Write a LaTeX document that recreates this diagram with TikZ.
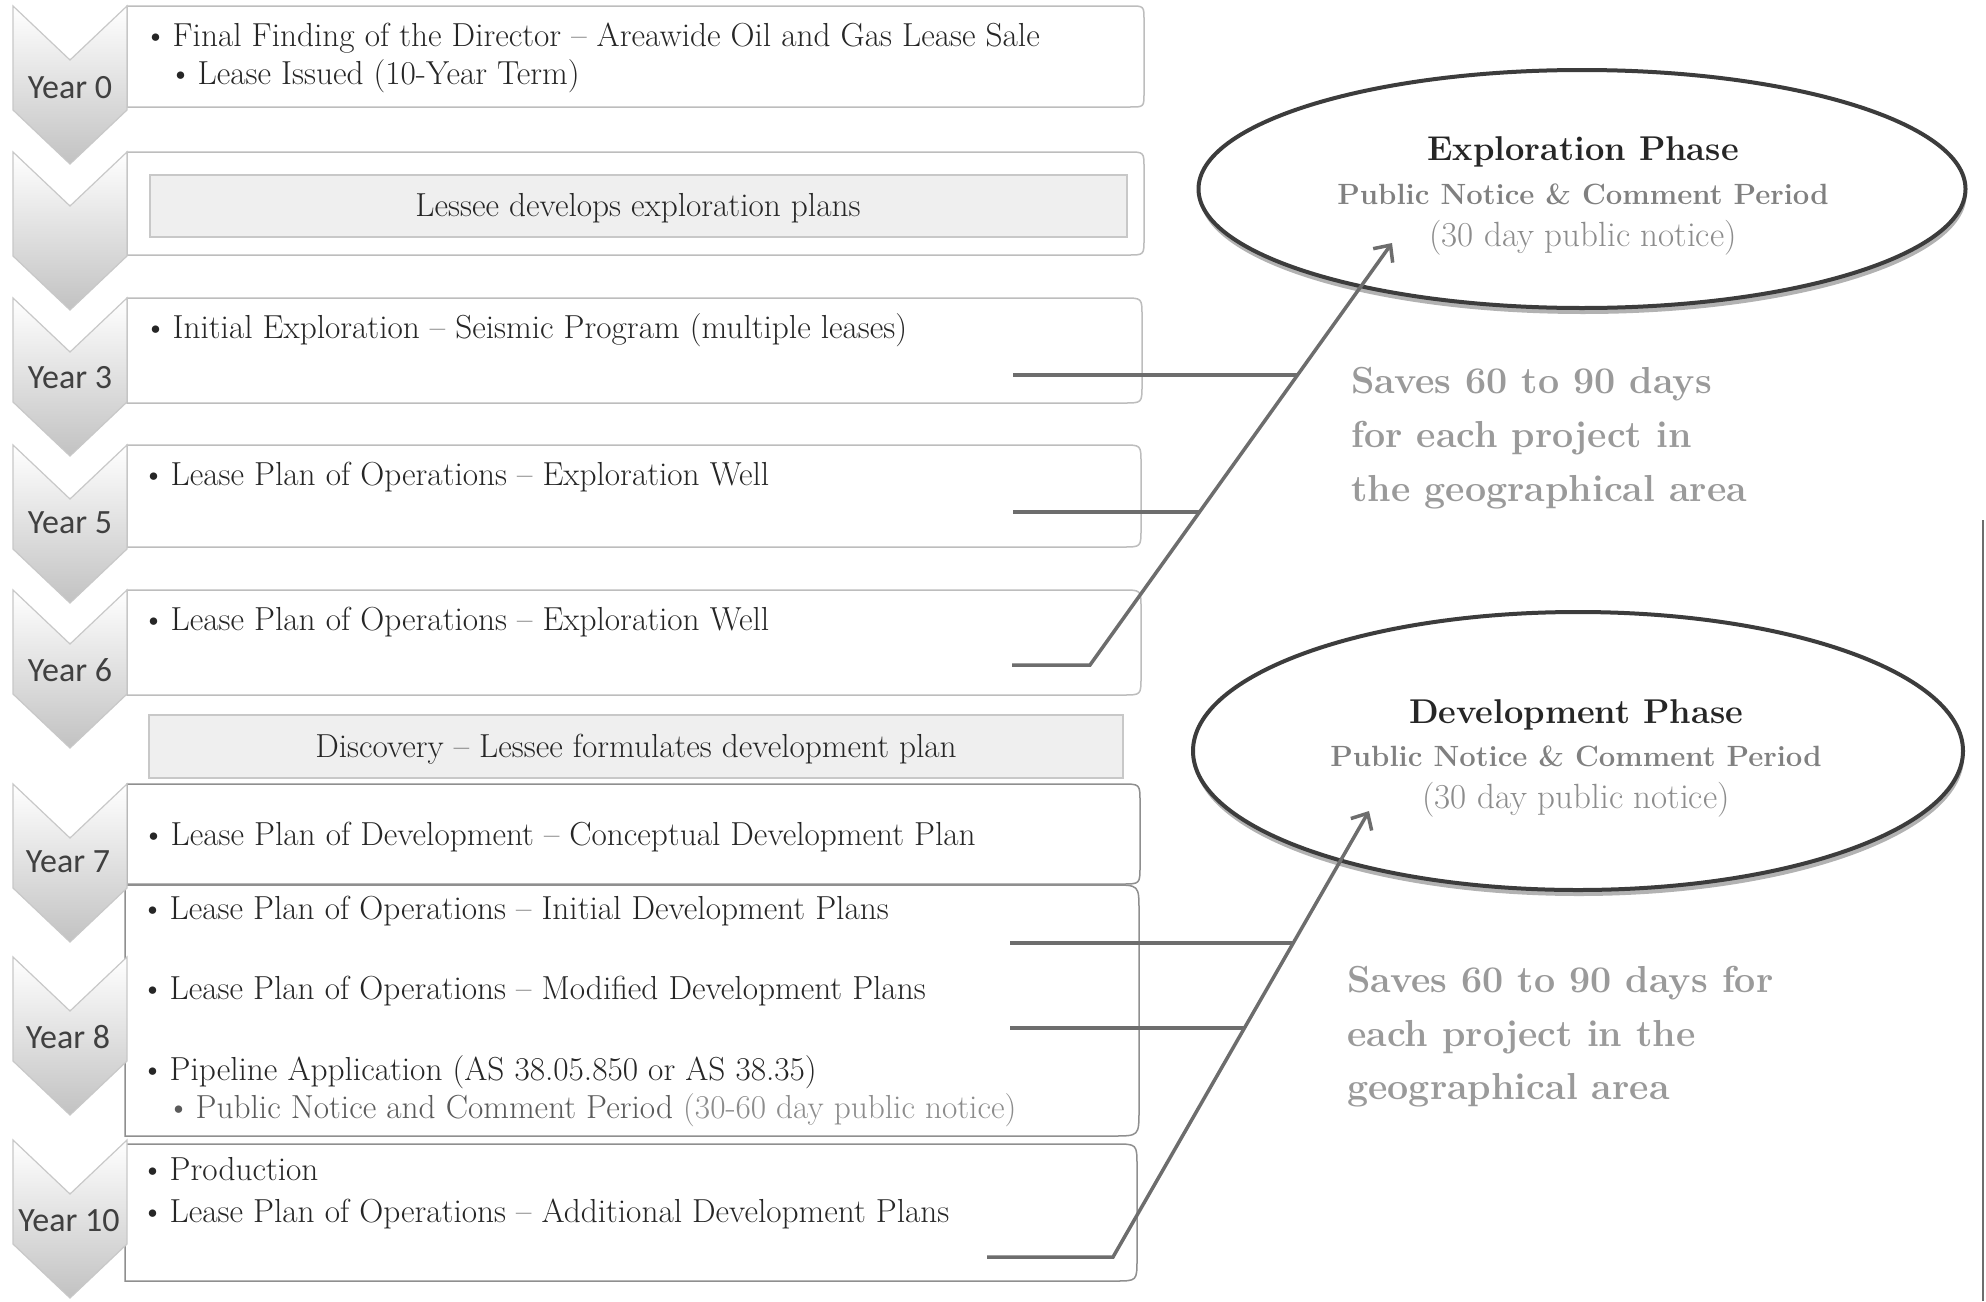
\documentclass[tikz,border=0pt]{standalone}
\usepackage{fontspec}
\newfontfamily\yrfont{Carlito}
\usetikzlibrary{shapes.geometric,shadows,arrows.meta}
\definecolor{txtc}{HTML}{262626}
\definecolor{yrc}{HTML}{404040}
\definecolor{subc}{HTML}{5A5A5A}
\definecolor{ltxt}{HTML}{8C8C8C}
\definecolor{savec}{HTML}{9A9A9A}
\definecolor{boxc}{HTML}{BDBDBD}
\definecolor{boxd}{HTML}{8F8F8F}
\definecolor{chevc}{HTML}{C8C8C8}
\definecolor{chevbot}{HTML}{C2C2C2}
\definecolor{gboxf}{HTML}{EFEFEF}
\definecolor{gboxc}{HTML}{C8C8C8}
\definecolor{linec}{HTML}{6D6D6D}
\definecolor{ellc}{HTML}{3C3C3C}
\tikzset{
  chevst/.style={draw=chevc, line width=1.2pt, top color=white, bottom color=chevbot},
  boxst/.style={draw=boxc, line width=1.5pt, fill=white},
  boxdk/.style={draw=boxd, line width=1.5pt, fill=white},
  graybox/.style={draw=gboxc, line width=1.2pt, fill=gboxf},
  btxt/.style={inner sep=0pt, anchor=base west, text=txtc, font=\fontsize{33.3}{40}\selectfont},
  ctxt/.style={inner sep=0pt, anchor=base, text=txtc, font=\fontsize{33.3}{40}\selectfont},
  yr/.style={inner sep=0pt, text=yrc, font=\yrfont\fontsize{34}{40}\selectfont},
  conn/.style={draw=linec, line width=3.5pt},
  ell/.style={ellipse, draw=ellc, line width=4pt, fill=white, inner sep=0pt,
    drop shadow={shadow xshift=1pt, shadow yshift=-6pt, opacity=0.3, fill=black}},
  etitle/.style={inner sep=0pt, anchor=base, text=txtc, font=\bfseries\fontsize{34.4}{41}\selectfont},
  esub/.style={inner sep=0pt, anchor=base, text=gray, font=\bfseries\fontsize{29.3}{36}\selectfont},
  enote/.style={inner sep=0pt, anchor=base, text=ltxt, font=\fontsize{35}{41}\selectfont},
  saves/.style={inner sep=0pt, anchor=base west, text=savec, font=\bfseries\fontsize{37.6}{45}\selectfont},
}
\newcommand\bul{\makebox[29pt][l]{\textbullet}}
\newcommand\chevron[1]{\path[chevst] (13,#1) -- (70,{#1+54}) -- (127,#1) -- (127,{#1+104}) -- (70,{#1+158}) -- (13,{#1+104}) -- cycle;}
\newcommand\rbox[6]{\path[#1] (#2,#3) -- ({#4-#6},#3) .. controls (#4,#3) .. (#4,{#3+#6}) -- (#4,{#5-#6}) .. controls (#4,#5) .. ({#4-#6},#5) -- (#2,#5) -- cycle;}
\begin{document}
\begin{tikzpicture}[x=1pt,y=-1pt]
\useasboundingbox (0,0) rectangle (1986,1301);
\fill[white] (0,0) rectangle (1986,1301);

% boxes
\rbox{boxst}{127}{6}{1144}{107}{14}
\rbox{boxst}{127}{152}{1144}{255}{16}
\rbox{boxst}{127}{298}{1142}{403}{18}
\rbox{boxst}{127}{445}{1141}{547}{18}
\rbox{boxst}{127}{590}{1141}{695}{18}
\rbox{boxdk}{127}{784}{1140}{884}{18}
\rbox{boxdk}{125}{885}{1139}{1136}{26}
\rbox{boxdk}{125}{1144}{1137}{1281}{22}

% gray inner boxes
\path[graybox] (150,175) rectangle (1127,237);
\path[graybox] (149,715) rectangle (1123,778);

% chevrons
\chevron{6}
\chevron{152}
\chevron{298}
\chevron{445}
\chevron{590}
\chevron{784}
\chevron{957}
\chevron{1140}

% year labels
\node[yr] (y0) at (70,88) {Year 0};
\node[yr] (y3) at (70,378) {Year 3};
\node[yr] (y5) at (70,523) {Year 5};
\node[yr] (y6) at (70,670) {Year 6};
\node[yr] (y7) at (68,862) {Year 7};
\node[yr] (y8) at (68,1037) {Year 8};
\node[yr] (y10) at (69,1221) {Year 10};

% box texts
\node[btxt] (t1) at (143.5,46) {\bul Final Finding of the Director -- Areawide Oil and Gas Lease Sale};
\node[btxt] (t1b) at (168.5,84) {\bul Lease Issued (10-Year Term)};
\node[ctxt] (g1) at (638,216) {Lessee develops exploration plans};
\node[btxt] (t3) at (143.5,338) {\bul Initial Exploration -- Seismic Program (multiple leases)};
\node[btxt] (t4) at (141.5,485) {\bul Lease Plan of Operations -- Exploration Well};
\node[btxt] (t5) at (141.5,630) {\bul Lease Plan of Operations -- Exploration Well};
\node[ctxt] (g2) at (636,757) {Discovery -- Lessee formulates development plan};
\node[btxt] (t6) at (141.5,845) {\bul Lease Plan of Development -- Conceptual Development Plan};
\node[btxt] (t7a) at (140.5,919) {\bul Lease Plan of Operations -- Initial Development Plans};
\node[btxt] (t7b) at (140.5,999) {\bul Lease Plan of Operations -- Modified Development Plans};
\node[btxt] (t7c) at (140.5,1080) {\bul Pipeline Application (AS 38.05.850 or AS 38.35)};
\node[btxt, text=subc] (t7d) at (166.5,1118) {\bul Public Notice and Comment Period {\color{ltxt}\addfontfeature{FakeBold=1.2}(30-60 day public notice)}};
\node[btxt] (t8a) at (140.5,1180) {\bul Production};
\node[btxt] (t8b) at (140.5,1222) {\bul Lease Plan of Operations -- Additional Development Plans};

% ellipses
\node[ell, minimum width=767pt, minimum height=238pt] (expl) at (1582,189) {};
\node[etitle] (expl1) at (1583,160) {Exploration Phase};
\node[esub] (expl2) at (1583,204) {Public Notice \& Comment Period};
\node[enote] (expl3) at (1583,246) {(30 day public notice)};

\node[ell, minimum width=770pt, minimum height=278pt] (dev) at (1578,751) {};
\node[etitle] (dev1) at (1576,723) {Development Phase};
\node[esub] (dev2) at (1576,766) {Public Notice \& Comment Period};
\node[enote] (dev3) at (1576,808) {(30 day public notice)};

% saves texts
\node[saves] (s1a) at (1351,393) {Saves 60 to 90 days};
\node[saves] (s1b) at (1351,447) {for each project in};
\node[saves] (s1c) at (1351,501) {the geographical area};
\node[saves] (s2a) at (1347,992) {Saves 60 to 90 days for};
\node[saves] (s2b) at (1347,1046) {each project in the};
\node[saves] (s2c) at (1347,1099) {geographical area};

% connectors: exploration
\coordinate (ea1) at (1013,375);
\coordinate (eb1) at (1298,375);
\coordinate (ea2) at (1013,512);
\coordinate (eb2) at (1200,512);
\coordinate (ea3) at (1012,665);
\coordinate (eb3) at (1090,665);
\coordinate (etip) at (1392,243);
\draw[conn] (ea1) -- (eb1);
\draw[conn] (ea2) -- (eb2);
\draw[conn, -{Straight Barb[length=13pt,width=24pt]}] (ea3) -- (eb3) -- (etip);

% connectors: development
\coordinate (da1) at (1010,943);
\coordinate (db1) at (1293,943);
\coordinate (da2) at (1010,1028);
\coordinate (db2) at (1244,1028);
\coordinate (da3) at (987,1257);
\coordinate (db3) at (1113,1257);
\coordinate (dtip) at (1369,811);
\draw[conn] (da1) -- (db1);
\draw[conn] (da2) -- (db2);
\draw[conn, -{Straight Barb[length=13pt,width=24pt]}] (da3) -- (db3) -- (dtip);

% right page edge
\draw[linec, line width=2.5pt] (1983,520) -- (1983,1301);
\end{tikzpicture}
\end{document}
